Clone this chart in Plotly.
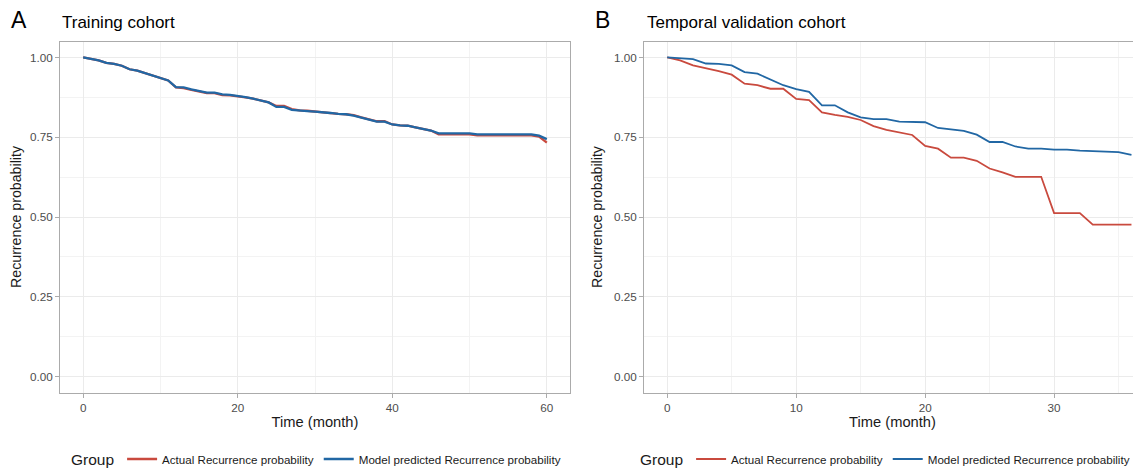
import plotly.graph_objects as go

# ---------------- data ----------------
train_months = list(range(61))
train_actual = [1.000, 0.996, 0.991, 0.983, 0.980, 0.974, 0.963, 0.959, 0.951, 0.943,
                0.937, 0.928, 0.906, 0.904, 0.898, 0.893, 0.888, 0.888, 0.882, 0.881,
                0.879, 0.875, 0.871, 0.866, 0.859, 0.848, 0.848, 0.838, 0.834, 0.833,
                0.830, 0.829, 0.826, 0.823, 0.822, 0.819, 0.812, 0.806, 0.800, 0.800,
                0.790, 0.787, 0.786, 0.781, 0.776, 0.771, 0.759, 0.759, 0.759, 0.759,
                0.759, 0.756, 0.756, 0.756, 0.756, 0.756, 0.756, 0.756, 0.756, 0.752,
                0.733]
train_model = [1.000, 0.996, 0.991, 0.983, 0.980, 0.974, 0.963, 0.959, 0.951, 0.943,
               0.937, 0.928, 0.907, 0.906, 0.900, 0.895, 0.890, 0.890, 0.884, 0.883,
               0.880, 0.876, 0.871, 0.866, 0.859, 0.845, 0.845, 0.836, 0.833, 0.832,
               0.830, 0.829, 0.826, 0.823, 0.822, 0.818, 0.811, 0.806, 0.799, 0.799,
               0.790, 0.787, 0.786, 0.781, 0.776, 0.771, 0.762, 0.762, 0.762, 0.762,
               0.762, 0.759, 0.759, 0.759, 0.759, 0.759, 0.759, 0.759, 0.759, 0.755,
               0.744]

valid_months = list(range(37))
valid_actual = [1.000, 0.991, 0.975, 0.967, 0.957, 0.946, 0.918, 0.913, 0.902, 0.902,
                0.870, 0.866, 0.828, 0.820, 0.814, 0.804, 0.785, 0.773, 0.765, 0.757,
                0.723, 0.714, 0.686, 0.686, 0.676, 0.652, 0.640, 0.626, 0.626, 0.626,
                0.512, 0.512, 0.512, 0.476, 0.476, 0.476, 0.476]
valid_model = [1.000, 0.998, 0.995, 0.981, 0.980, 0.975, 0.954, 0.949, 0.931, 0.913,
               0.901, 0.892, 0.850, 0.850, 0.828, 0.812, 0.807, 0.807, 0.799, 0.799,
               0.797, 0.779, 0.775, 0.770, 0.758, 0.735, 0.735, 0.721, 0.714, 0.714,
               0.711, 0.711, 0.708, 0.706, 0.706, 0.703, 0.695]

group_names = ["Actual Recurrence probability", "Model predicted Recurrence probability"]
y_ticks = [0.0, 0.25, 0.5, 0.75, 1.0]

# ---------------- style ----------------
OFF = 8                 # page body margin offset
W, H = 1141 - OFF, 468 - OFF
RED = "#C94A3E"
BLUE = "#2167A4"
BORDER = "#ABABAB"
GRID = "#EBEBEB"
GRID_MINOR = "#F3F3F3"
FONT = "Liberation Sans, Arial, sans-serif"

def px_x(p):
    return (p - OFF) / W

def px_y(p):
    return (H - (p - OFF)) / H

fig = go.Figure()

fig.add_trace(go.Scatter(x=train_months, y=train_actual, mode="lines", name=group_names[0],
                         line=dict(color=RED, width=2.3), xaxis="x", yaxis="y", legend="legend"))
fig.add_trace(go.Scatter(x=train_months, y=train_model, mode="lines", name=group_names[1],
                         line=dict(color=BLUE, width=2.3), xaxis="x", yaxis="y", legend="legend"))
fig.add_trace(go.Scatter(x=valid_months, y=valid_actual, mode="lines", name=group_names[0],
                         line=dict(color=RED, width=1.8), xaxis="x2", yaxis="y2", legend="legend2"))
fig.add_trace(go.Scatter(x=valid_months, y=valid_model, mode="lines", name=group_names[1],
                         line=dict(color=BLUE, width=1.8), xaxis="x2", yaxis="y2", legend="legend2"))

ydom = [px_y(392.5), px_y(41.5)]

common_x = dict(showgrid=True, gridcolor=GRID, gridwidth=1, zeroline=False,
                showline=True, linecolor=BORDER, linewidth=1, mirror=True,
                ticks="outside", ticklen=4, tickcolor=BORDER, ticklabelstandoff=0,
                tickfont=dict(size=11.7, color="#4D4D4D", family=FONT),
                title=dict(text="Time (month)", font=dict(size=14.7, color="#1A1A1A", family=FONT), standoff=4))
common_y = dict(showgrid=True, gridcolor=GRID, gridwidth=1, zeroline=False,
                showline=True, linecolor=BORDER, linewidth=1,
                ticks="outside", ticklen=4, tickcolor=BORDER,
                tickvals=y_ticks, tickformat=".2f", range=[-0.05, 1.05],
                minor=dict(dtick=0.125, tick0=0, showgrid=True, gridcolor=GRID_MINOR, ticks=""),
                tickfont=dict(size=11.7, color="#4D4D4D", family=FONT),
                title=dict(text="Recurrence probability", font=dict(size=14.2, color="#1A1A1A", family=FONT), standoff=7),
                domain=ydom)

legend_common = dict(orientation="h", xanchor="left", y=px_y(460), yanchor="middle",
                     title=dict(text="Group", side="left", font=dict(size=15.5, color="#1A1A1A")),
                     font=dict(size=11.6, color="#1A1A1A"), bgcolor="rgba(0,0,0,0)")

fig.update_layout(
    width=W, height=H,
    margin=dict(l=0, r=0, t=0, b=0, autoexpand=False),
    plot_bgcolor="white", paper_bgcolor="white",
    font=dict(family=FONT, color="#4D4D4D"),
    xaxis=dict(**common_x, domain=[px_x(60), px_x(570)], range=[-3, 63], dtick=20, tick0=0,
               minor=dict(dtick=10, tick0=0, showgrid=True, gridcolor=GRID_MINOR, ticks=""),
               anchor="y"),
    yaxis=dict(**common_y, mirror=True, anchor="x"),
    xaxis2=dict(**common_x, domain=[px_x(644), 1.0], range=[-1.8, 36.74], dtick=10, tick0=0,
                minor=dict(dtick=5, tick0=0, showgrid=True, gridcolor=GRID_MINOR, ticks=""),
                anchor="y2"),
    yaxis2=dict(**common_y, mirror=False, anchor="x2"),
    legend=dict(**legend_common, x=px_x(69)),
    legend2=dict(**legend_common, x=px_x(638)),
    showlegend=True,
)

ann = [
    ("A", 9, 20, 23), ("Training cohort", 60, 22, 17),
    ("B", 593, 20, 23), ("Temporal validation cohort", 645, 22, 17),
]
for text, x, y, s in ann:
    fig.add_annotation(text=text, x=px_x(x), y=px_y(y), xref="paper", yref="paper",
                       xanchor="left", yanchor="middle", showarrow=False,
                       font=dict(size=s, color="#000000", family=FONT))

fig.write_html("out.html")
